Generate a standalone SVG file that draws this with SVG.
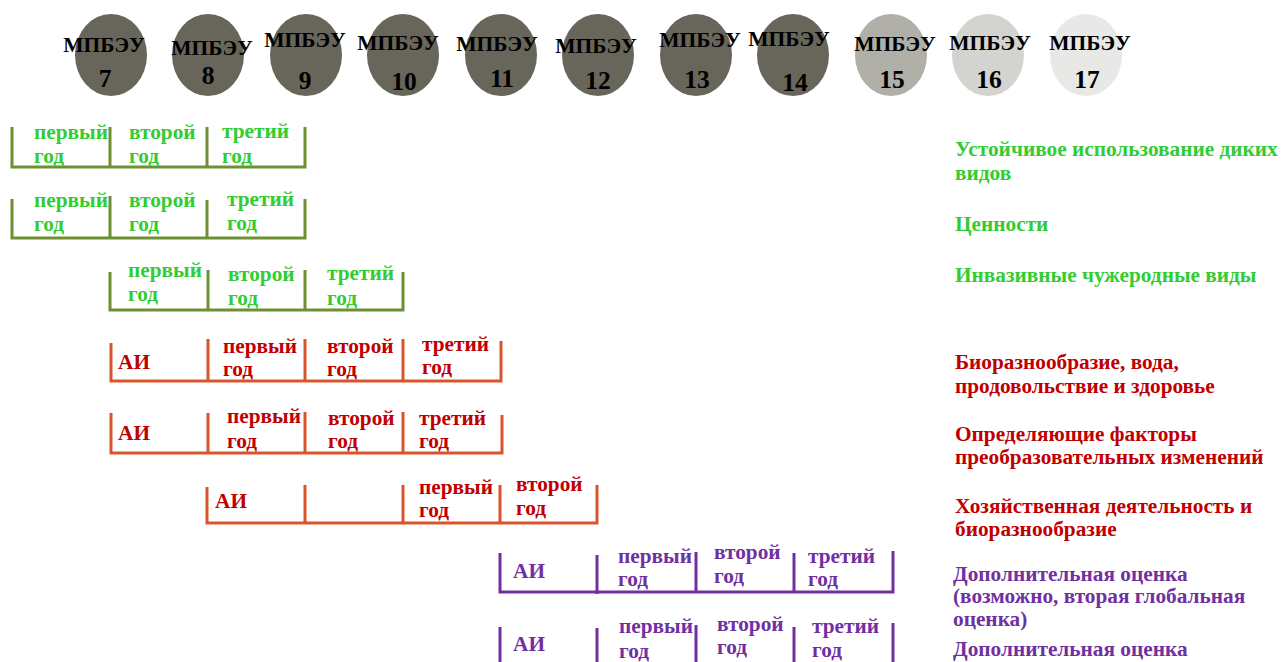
<svg xmlns="http://www.w3.org/2000/svg" width="1284" height="662" viewBox="0 0 1284 662">
<style>
text{font-family:"Liberation Serif","Times New Roman",serif;font-weight:bold}
.m{font-size:21.5px;fill:#000;text-anchor:middle}
.n{font-size:25.5px;fill:#000;text-anchor:middle}
.dk{fill:#68665a}
.g{fill:#33cc33;font-size:21.3px}
.r{fill:#c00000;font-size:21.3px}
.p{fill:#7030a0;font-size:21.3px}
.lg{stroke:#6f8f35;stroke-width:3;fill:none}
.lr{stroke:#d9542b;stroke-width:3;fill:none}
.lp{stroke:#7030a0;stroke-width:3;fill:none}
</style>
<rect width="1284" height="662" fill="#fff"/>
<g id="meetings">
<g id="m7"><ellipse class="dk" cx="111" cy="55" rx="36" ry="41"/><text class="m" x="104" y="52">МПБЭУ</text><text class="n" x="105" y="87">7</text></g>
<g id="m8"><ellipse class="dk" cx="208" cy="55" rx="36" ry="41"/><text class="m" x="212" y="55">МПБЭУ</text><text class="n" x="208" y="84">8</text></g>
<g id="m9"><ellipse class="dk" cx="306" cy="55" rx="36" ry="41"/><text class="m" x="305" y="47">МПБЭУ</text><text class="n" x="305" y="89">9</text></g>
<g id="m10"><ellipse class="dk" cx="403" cy="55" rx="36" ry="41"/><text class="m" x="398" y="50">МПБЭУ</text><text class="n" x="404" y="90">10</text></g>
<g id="m11"><ellipse class="dk" cx="501" cy="55" rx="36" ry="41"/><text class="m" x="497" y="51">МПБЭУ</text><text class="n" x="502" y="87">11</text></g>
<g id="m12"><ellipse class="dk" cx="598" cy="55" rx="36" ry="41"/><text class="m" x="596" y="53">МПБЭУ</text><text class="n" x="598" y="89">12</text></g>
<g id="m13"><ellipse class="dk" cx="696" cy="55" rx="36" ry="41"/><text class="m" x="700" y="47">МПБЭУ</text><text class="n" x="697" y="88">13</text></g>
<g id="m14"><ellipse class="dk" cx="793" cy="55" rx="36" ry="41"/><text class="m" x="789" y="46">МПБЭУ</text><text class="n" x="795" y="91">14</text></g>
<g id="m15"><ellipse fill="#b0b0a8" cx="891" cy="55" rx="36" ry="41"/><text class="m" x="895" y="51">МПБЭУ</text><text class="n" x="892" y="88">15</text></g>
<g id="m16"><ellipse fill="#d3d3cf" cx="988" cy="55" rx="36" ry="41"/><text class="m" x="990" y="50">МПБЭУ</text><text class="n" x="989" y="88">16</text></g>
<g id="m17"><ellipse fill="#e8e8e6" cx="1086" cy="55" rx="36" ry="41"/><text class="m" x="1090" y="50">МПБЭУ</text><text class="n" x="1087" y="88">17</text></g>
</g>
<g id="connectors">
<path class="lg" d="M12,127V167H305V127M110,127V167M207,127V167"/>
<path class="lg" d="M12,199V238H305V199M110,196V238M207,200V238"/>
<path class="lg" d="M110,272V310H403V272M208,270V310M305,270V310"/>
<path class="lr" d="M111,343V381H501V341M208,339V381M305,339V381M403,339V381"/>
<path class="lr" d="M111,413V453H502V415M208,413V453M305,412V453M403,412V453"/>
<path class="lr" d="M207,487V523H597V485M305,485V523M403,485V523M500,485V523"/>
<path class="lp" d="M500,553V592H893V551M597,555V594M696,552V592M794,553V592"/>
<path class="lp" d="M500,627V662M597,628V662M696,625V662M794,627V662M893,623V662"/>
</g>
<g id="row1" class="g">
<text x="34" y="139">первый</text><text x="34" y="163">год</text>
<text x="129" y="139">второй</text><text x="129" y="163">год</text>
<text x="222" y="138">третий</text><text x="222" y="163">год</text>
<text x="955" y="156">Устойчивое использование диких</text><text x="955" y="180">видов</text>
</g>
<g id="row2" class="g">
<text x="34" y="207">первый</text><text x="34" y="231">год</text>
<text x="129" y="207">второй</text><text x="129" y="231">год</text>
<text x="227" y="206">третий</text><text x="227" y="230">год</text>
<text x="955" y="231">Ценности</text>
</g>
<g id="row3" class="g">
<text x="128" y="277">первый</text><text x="128" y="301">год</text>
<text x="228" y="281">второй</text><text x="228" y="305">год</text>
<text x="327" y="280">третий</text><text x="327" y="305">год</text>
<text x="955" y="282">Инвазивные чужеродные виды</text>
</g>
<g id="row4" class="r">
<text x="118" y="369">АИ</text>
<text x="223" y="353">первый</text><text x="223" y="376">год</text>
<text x="327" y="353">второй</text><text x="327" y="376">год</text>
<text x="422" y="351">третий</text><text x="422" y="374">год</text>
<text x="955" y="369">Биоразнообразие, вода,</text><text x="955" y="393">продовольствие и здоровье</text>
</g>
<g id="row5" class="r">
<text x="118" y="440">АИ</text>
<text x="227" y="423">первый</text><text x="227" y="448">год</text>
<text x="328" y="425">второй</text><text x="328" y="448">год</text>
<text x="419" y="425">третий</text><text x="419" y="448">год</text>
<text x="955" y="441">Определяющие факторы</text><text x="955" y="464">преобразовательных изменений</text>
</g>
<g id="row6" class="r">
<text x="215" y="508">АИ</text>
<text x="419" y="494">первый</text><text x="419" y="517">год</text>
<text x="516" y="491">второй</text><text x="516" y="515">год</text>
<text x="955" y="513">Хозяйственная деятельность и</text><text x="955" y="536">биоразнообразие</text>
</g>
<g id="row7" class="p">
<text x="513" y="578">АИ</text>
<text x="618" y="563">первый</text><text x="618" y="586">год</text>
<text x="714" y="559">второй</text><text x="714" y="583">год</text>
<text x="808" y="563">третий</text><text x="808" y="586">год</text>
<text x="953" y="581">Дополнительная оценка</text><text x="953" y="603">(возможно, вторая глобальная</text><text x="953" y="626">оценка)</text>
</g>
<g id="row8" class="p">
<text x="513" y="651">АИ</text>
<text x="619" y="633">первый</text><text x="619" y="658">год</text>
<text x="717" y="631">второй</text><text x="717" y="654">год</text>
<text x="812" y="633">третий</text><text x="812" y="657">год</text>
<text x="953" y="656">Дополнительная оценка</text>
</g>
</svg>
